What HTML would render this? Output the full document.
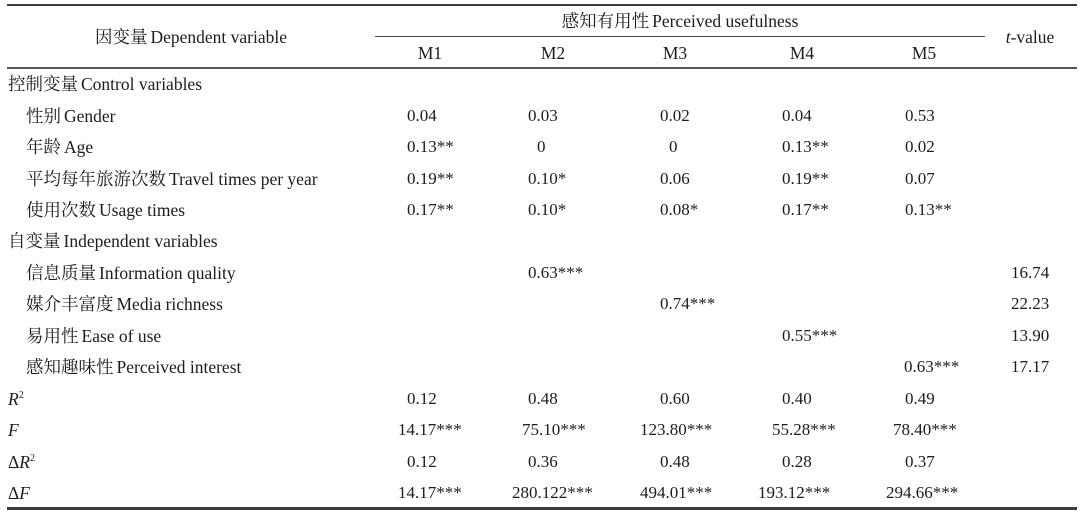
<!DOCTYPE html>
<html>
<head>
<meta charset="utf-8">
<style>
  html, body { margin:0; padding:0; background:#fff; }
  body { width:1080px; height:516px; position:relative; overflow:hidden;
         font-family:"Liberation Serif","Noto Serif CJK SC","Noto Sans CJK SC",serif;
         font-size:17px; color:#1c1c1c; }
  .t { position:absolute; line-height:20px; height:20px; white-space:nowrap; }
  .l { font-size:17.5px; }
  .c { transform:translateX(-50%); }
  .k { margin-right:3px; }
  .ln { position:absolute; background:#3a3a3a; }
  i { font-style:italic; }
  sup { font-size:10px; vertical-align:0; position:relative; top:-7px; }
</style>
</head>
<body>
<!-- lines -->
<div class="ln" style="left:7px;top:4px;width:1070px;height:2px;"></div>
<div class="ln" style="left:375px;top:36px;width:610px;height:1px;background:#444;"></div>
<div class="ln" style="left:7px;top:67px;width:1070px;height:2px;background:#555;"></div>
<div class="ln" style="left:7px;top:507px;width:1070px;height:3px;"></div>

<!-- header -->
<div class="t c l" style="left:191px;top:27px;"><span class="k">因变量</span>Dependent variable</div>
<div class="t c l" style="left:680px;top:11px;"><span class="k">感知有用性</span>Perceived usefulness</div>
<div class="t c l" style="left:1030px;top:27px;"><i>t</i>-value</div>
<div class="t c l" style="left:430px;top:43px;">M1</div>
<div class="t c l" style="left:553px;top:43px;">M2</div>
<div class="t c l" style="left:675px;top:43px;">M3</div>
<div class="t c l" style="left:802px;top:43px;">M4</div>
<div class="t c l" style="left:924px;top:43px;">M5</div>

<!-- row labels -->
<div class="t l" style="left:8px;top:74px;"><span class="k">控制变量</span>Control variables</div>
<div class="t l" style="left:26px;top:106px;"><span class="k">性别</span>Gender</div>
<div class="t l" style="left:26px;top:137px;"><span class="k">年龄</span>Age</div>
<div class="t l" style="left:26px;top:169px;"><span class="k">平均每年旅游次数</span>Travel times per year</div>
<div class="t l" style="left:26px;top:200px;"><span class="k">使用次数</span>Usage times</div>
<div class="t l" style="left:8px;top:231px;"><span class="k">自变量</span>Independent variables</div>
<div class="t l" style="left:26px;top:263px;"><span class="k">信息质量</span>Information quality</div>
<div class="t l" style="left:26px;top:294px;"><span class="k">媒介丰富度</span>Media richness</div>
<div class="t l" style="left:26px;top:326px;"><span class="k">易用性</span>Ease of use</div>
<div class="t l" style="left:26px;top:357px;"><span class="k">感知趣味性</span>Perceived interest</div>
<div class="t l" style="left:8px;top:389px;"><i>R</i><sup>2</sup></div>
<div class="t l" style="left:8px;top:420px;"><i>F</i></div>
<div class="t l" style="left:8px;top:452px;">Δ<i>R</i><sup>2</sup></div>
<div class="t l" style="left:8px;top:483px;">Δ<i>F</i></div>

<!-- Gender -->
<div class="t" style="left:407px;top:106px;">0.04</div>
<div class="t" style="left:528px;top:106px;">0.03</div>
<div class="t" style="left:660px;top:106px;">0.02</div>
<div class="t" style="left:782px;top:106px;">0.04</div>
<div class="t" style="left:905px;top:106px;">0.53</div>
<!-- Age -->
<div class="t" style="left:407px;top:137px;">0.13**</div>
<div class="t" style="left:537px;top:137px;">0</div>
<div class="t" style="left:669px;top:137px;">0</div>
<div class="t" style="left:782px;top:137px;">0.13**</div>
<div class="t" style="left:905px;top:137px;">0.02</div>
<!-- Travel -->
<div class="t" style="left:407px;top:169px;">0.19**</div>
<div class="t" style="left:528px;top:169px;">0.10*</div>
<div class="t" style="left:660px;top:169px;">0.06</div>
<div class="t" style="left:782px;top:169px;">0.19**</div>
<div class="t" style="left:905px;top:169px;">0.07</div>
<!-- Usage -->
<div class="t" style="left:407px;top:200px;">0.17**</div>
<div class="t" style="left:528px;top:200px;">0.10*</div>
<div class="t" style="left:660px;top:200px;">0.08*</div>
<div class="t" style="left:782px;top:200px;">0.17**</div>
<div class="t" style="left:905px;top:200px;">0.13**</div>
<!-- Independent -->
<div class="t" style="left:528px;top:263px;">0.63***</div>
<div class="t" style="left:1011px;top:263px;">16.74</div>
<div class="t" style="left:660px;top:294px;">0.74***</div>
<div class="t" style="left:1011px;top:294px;">22.23</div>
<div class="t" style="left:782px;top:326px;">0.55***</div>
<div class="t" style="left:1011px;top:326px;">13.90</div>
<div class="t" style="left:904px;top:357px;">0.63***</div>
<div class="t" style="left:1011px;top:357px;">17.17</div>
<!-- R2 -->
<div class="t" style="left:407px;top:389px;">0.12</div>
<div class="t" style="left:528px;top:389px;">0.48</div>
<div class="t" style="left:660px;top:389px;">0.60</div>
<div class="t" style="left:782px;top:389px;">0.40</div>
<div class="t" style="left:905px;top:389px;">0.49</div>
<!-- F -->
<div class="t" style="left:398px;top:420px;">14.17***</div>
<div class="t" style="left:522px;top:420px;">75.10***</div>
<div class="t" style="left:640px;top:420px;">123.80***</div>
<div class="t" style="left:772px;top:420px;">55.28***</div>
<div class="t" style="left:893px;top:420px;">78.40***</div>
<!-- dR2 -->
<div class="t" style="left:407px;top:452px;">0.12</div>
<div class="t" style="left:528px;top:452px;">0.36</div>
<div class="t" style="left:660px;top:452px;">0.48</div>
<div class="t" style="left:782px;top:452px;">0.28</div>
<div class="t" style="left:905px;top:452px;">0.37</div>
<!-- dF -->
<div class="t" style="left:398px;top:483px;">14.17***</div>
<div class="t" style="left:512px;top:483px;">280.122***</div>
<div class="t" style="left:640px;top:483px;">494.01***</div>
<div class="t" style="left:758px;top:483px;">193.12***</div>
<div class="t" style="left:886px;top:483px;">294.66***</div>
</body>
</html>
